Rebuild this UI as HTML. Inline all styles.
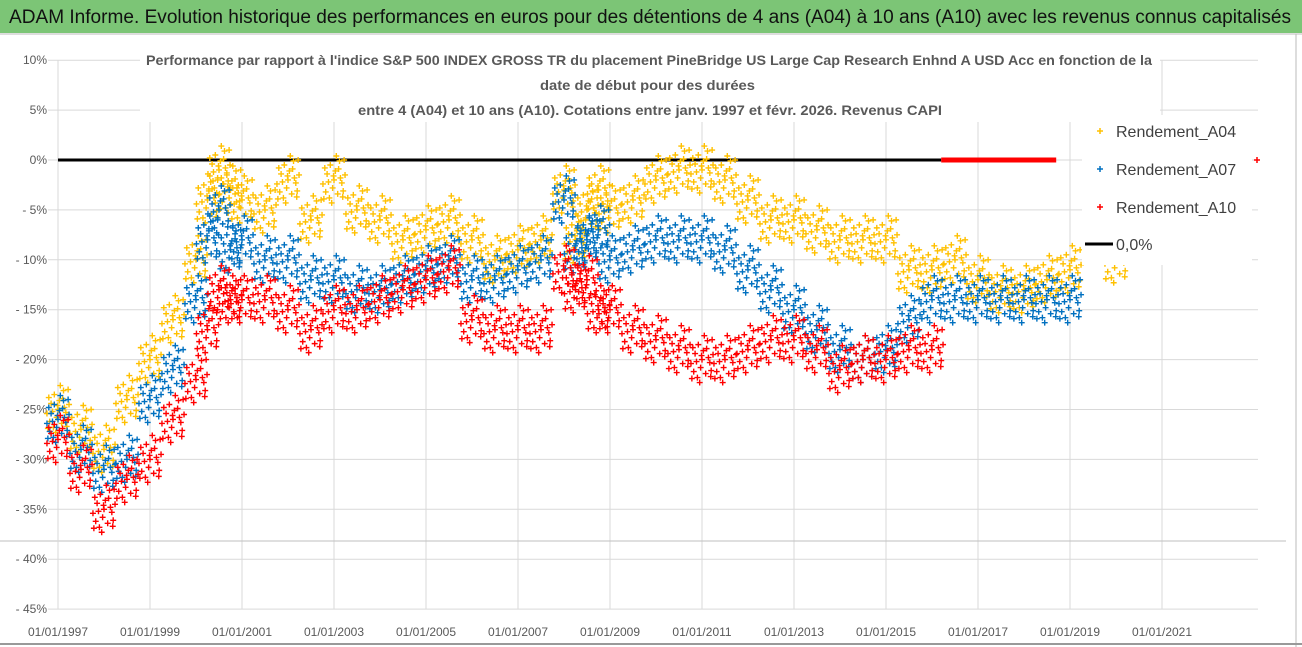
<!DOCTYPE html>
<html><head><meta charset="utf-8"><style>
html,body{margin:0;padding:0;background:#fff;width:1302px;height:647px;overflow:hidden}
svg{display:block;font-family:"Liberation Sans",sans-serif}
</style></head><body>
<svg id="chart" width="1302" height="647" viewBox="0 0 1302 647">
<rect x="0" y="0" width="1302" height="647" fill="#fff"/>
<rect x="0" y="0" width="1302" height="33" fill="#7CC576"/>
<text x="9" y="23" font-size="19" fill="#111" textLength="1282" lengthAdjust="spacingAndGlyphs">ADAM Informe. Evolution historique des performances en euros pour des détentions de 4 ans (A04) à 10 ans (A10) avec les revenus connus capitalisés</text>
<line x1="0" y1="34" x2="1302" y2="34" stroke="#ddd" stroke-width="2"/>
<line x1="1296" y1="34" x2="1296" y2="647" stroke="#bbb" stroke-width="1"/>
<line x1="0" y1="644" x2="1302" y2="644" stroke="#999" stroke-width="2"/>
<g id="grid"></g>
<g id="axes"></g>
<g id="marks"></g>
<g>
<rect x="140" y="46" width="1020" height="76" fill="#fff"/>
<text x="146" y="65" font-size="14" font-weight="bold" fill="#595959" textLength="1006" lengthAdjust="spacingAndGlyphs">Performance par rapport à l'indice S&amp;P 500 INDEX GROSS TR  du placement PineBridge US Large Cap Research Enhnd A USD Acc en fonction de la</text>
<text x="540" y="90" font-size="14" font-weight="bold" fill="#595959" textLength="215" lengthAdjust="spacingAndGlyphs">date de début pour des durées</text>
<text x="358" y="115" font-size="14" font-weight="bold" fill="#595959" textLength="584" lengthAdjust="spacingAndGlyphs">entre 4 (A04) et 10 ans (A10). Cotations entre janv. 1997 et févr. 2026. Revenus CAPI</text>
</g>
<g>
<rect x="1082" y="115" width="170" height="150" fill="#fff"/>
<g><path d="M1097 131h6M1100 128v6" stroke="#FFC000" stroke-width="1.5"/><text x="1116" y="137" font-size="16" fill="#404040">Rendement_A04</text></g>
<g><path d="M1097 169h6M1100 166v6" stroke="#0070C0" stroke-width="1.5"/><text x="1116" y="175" font-size="16" fill="#404040">Rendement_A07</text></g>
<g><path d="M1097 207h6M1100 204v6" stroke="#FF0000" stroke-width="1.5"/><text x="1116" y="213" font-size="16" fill="#404040">Rendement_A10</text></g>
<g><line x1="1085" y1="244" x2="1113" y2="244" stroke="#000" stroke-width="3"/><text x="1116" y="250" font-size="16" fill="#404040">0,0%</text></g>
</g>
</svg>
<script>
const yTicks = [10,5,0,-5,-10,-15,-20,-25,-30,-35,-40,-45];
const xTickYears = [1997,1999,2001,2003,2005,2007,2009,2011,2013,2015,2017,2019,2021];
const a04Dates = [1997,1997.5,1998,1998.5,1999,1999.5,2000,2000.25,2000.5,2000.75,2001,2001.5,2002,2002.5,2003,2003.5,2004,2004.5,2005,2005.5,2006,2006.5,2007,2007.5,2008,2008.25,2008.5,2008.75,2009,2009.5,2010,2010.5,2011,2011.5,2012,2012.5,2013,2013.5,2014,2014.5,2015,2015.5,2016,2016.5,2017,2017.5,2018,2018.5,2019,2020];
const a04Values = [-25,-27,-29,-24,-20,-16,-10,-4,-1,-3,-4,-5,-2,-6,-2,-5,-6,-8,-7,-6,-8,-10,-9,-8,-3,-8,-5,-3,-5,-4,-2,-1,-1,-2,-4,-6,-6,-7,-8,-8,-8,-11,-11,-10,-12,-13,-13,-12,-11,-10];
const a07Dates = [1997,1997.5,1998,1998.5,1999,1999.5,2000,2000.25,2000.5,2000.75,2001,2001.5,2002,2002.5,2003,2003.5,2004,2004.5,2005,2005.5,2006,2006.5,2007,2007.5,2008,2008.25,2008.5,2008.75,2009,2009.5,2010,2010.5,2011,2011.5,2012,2012.5,2013,2013.5,2014,2014.5,2015,2015.5,2016,2016.5,2017,2017.5,2018,2018.5,2019];
const a07Values = [-26,-29,-31,-30,-24,-21,-14,-8,-5,-9,-8,-10,-10,-12,-12,-13,-13,-12,-11,-10,-12,-12,-11,-10,-4,-9,-8,-7,-10,-9,-8,-8,-8,-9,-11,-13,-15,-17,-19,-20,-19,-16,-14,-14,-14,-14,-14,-14,-14];
const a10Dates = [1997,1997.5,1998,1998.5,1999,1999.5,2000,2000.25,2000.5,2000.75,2001,2001.5,2002,2002.5,2003,2003.5,2004,2004.5,2005,2005.5,2006,2006.5,2007,2007.5,2008,2008.25,2008.5,2008.75,2009,2009.5,2010,2010.5,2011,2011.5,2012,2012.5,2013,2013.5,2014,2014.5,2015,2015.5,2016];
const a10Values = [-28,-31,-35,-32,-30,-26,-22,-17,-13,-14,-14,-14,-15,-17,-15,-15,-14,-13,-12,-11,-16,-17,-17,-17,-11,-13,-12,-15,-15,-17,-18,-19,-20,-20,-19,-18,-18,-19,-21,-20,-20,-19,-19];
const zeroLine = [1997, 2016.2];
const redZeroSegment = [2016.2, 2018.7];

const NS = "http://www.w3.org/2000/svg";
const X0 = 58, PX_PER_YEAR = 46, Y0 = 160, PX_PER_PCT = 9.98;
function xs(t){ return X0 + (t - 1997) * PX_PER_YEAR; }
function ys(v){ return Y0 - v * PX_PER_PCT; }
function mk(tag, attrs, parent){ const e = document.createElementNS(NS, tag); for (const k in attrs) e.setAttribute(k, attrs[k]); parent.appendChild(e); return e; }

const grid = document.getElementById('grid');
const axes = document.getElementById('axes');
const marks = document.getElementById('marks');

yTicks.forEach(v => {
  const l = mk('line', {x1: 48, x2: 1258, y1: ys(v), y2: ys(v), stroke: '#d9d9d9', 'stroke-width': 1}, grid);
  
  
  const t = mk('text', {x: 47, y: ys(v) + 4, 'font-size': 12, fill: '#595959', 'text-anchor': 'end'}, axes);
  t.textContent = (v < 0 ? '- ' + (-v) : v) + '%';
  
  
});
xTickYears.forEach(y => {
  const l = mk('line', {x1: xs(y), x2: xs(y), y1: ys(10), y2: ys(-45), stroke: '#d9d9d9', 'stroke-width': 1}, grid);
  
  
  const t = mk('text', {x: xs(y), y: 636, 'font-size': 12, fill: '#595959', 'text-anchor': 'middle'}, axes);
  t.textContent = '01/01/' + y;
  
  
});
const extra = mk('line', {x1: 0, x2: 1286, y1: 541, y2: 541, stroke: '#bfbfbf', 'stroke-width': 1}, grid);


const ax = mk('line', {x1: X0, x2: X0, y1: ys(10), y2: ys(-45), stroke: '#d9d9d9', 'stroke-width': 1}, axes);



// marker cluster pattern (visual spread around each sampled value)
const spread = [[0,0],[-0.2,1.2],[0.2,-1.1],[-0.1,-1.8],[0.12,1.9],[-0.24,-0.4],[0.24,0.5],[0.05,2.4],[-0.05,-2.3],[0.17,-0.3],[-0.15,0.6],[0.08,-1.4],[-0.08,1.5],[0.22,2.0],[-0.22,-1.9],[0.03,0.9],[-0.03,-0.8],[0.14,0.2],[-0.12,-0.2],[0.1,1.1],[-0.18,-1.2],[0.19,-1.7],[-0.01,0.4]];
function drawSeries(dates, vals, color, name){
  const g = mk('g', {stroke: color, 'stroke-width': 1.4}, marks);
  
  
  dates.forEach((d, i) => {
    spread.forEach(o => {
      const cx = xs(d + o[0]), cy = ys(vals[i] + o[1]);
      const p = mk('path', {d: `M${cx-3} ${cy}h6M${cx} ${cy-3}v6`}, g);
      
      
    });
  });
}
const zl = mk('line', {x1: xs(zeroLine[0]), x2: xs(zeroLine[1]), y1: ys(0), y2: ys(0), stroke: '#000', 'stroke-width': 3}, marks);


drawSeries(a04Dates, a04Values, '#FFC000', 'series-a04');
drawSeries(a07Dates, a07Values, '#0070C0', 'series-a07');
drawSeries(a10Dates, a10Values, '#FF0000', 'series-a10');
const rz = mk('line', {x1: xs(redZeroSegment[0]), x2: xs(redZeroSegment[1]), y1: ys(0), y2: ys(0), stroke: '#FF0000', 'stroke-width': 5}, marks);


const rp = mk('path', {d: `M${1254} ${ys(0)}h6M1257 ${ys(0)-3}v6`, stroke: '#FF0000', 'stroke-width': 1.5}, marks);


</script>
</body></html>
